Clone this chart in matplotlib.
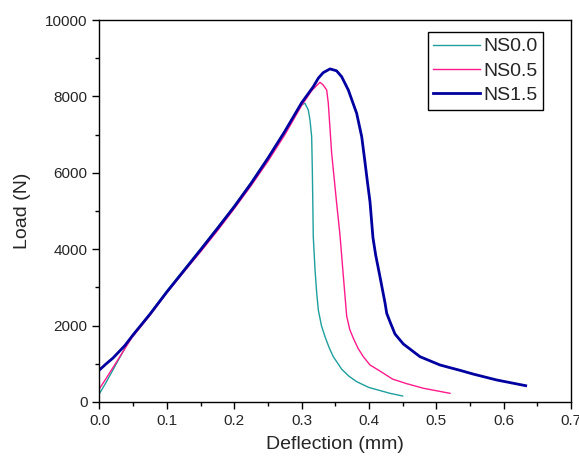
import matplotlib
matplotlib.use("Agg")
import matplotlib.pyplot as plt
from matplotlib.ticker import MultipleLocator, FormatStrFormatter

plt.rcParams['font.family'] = ['Liberation Sans', 'DejaVu Sans']

# NS0.0
x0 = [0, 0.01, 0.02, 0.03, 0.04, 0.05, 0.075, 0.1, 0.125, 0.15, 0.175, 0.2, 0.225,
      0.25, 0.275, 0.2928, 0.3, 0.305, 0.31, 0.3125, 0.315, 0.316, 0.3174, 0.32,
      0.3225, 0.3249, 0.3295, 0.3348, 0.341, 0.347, 0.3595, 0.37, 0.3818, 0.4,
      0.4164, 0.431, 0.45]
y0 = [220, 520, 840, 1160, 1480, 1760, 2320, 2910, 3460, 4010, 4570, 5140, 5750,
      6400, 7090, 7600, 7780, 7820, 7644, 7382, 6945, 6073, 4327, 3455,
      2850, 2408, 2000, 1710, 1420, 1190, 860, 680, 532, 380,
      300, 228, 157]

# NS0.5
x1 = [0, 0.01, 0.02, 0.03, 0.04, 0.048, 0.075, 0.1, 0.125, 0.15, 0.175, 0.2, 0.225,
      0.25, 0.275, 0.3, 0.315, 0.3273, 0.332, 0.3373, 0.3397, 0.3447, 0.3521, 0.357,
      0.362, 0.367, 0.3715, 0.3768, 0.384, 0.3917, 0.4016, 0.4164, 0.435, 0.456,
      0.4807, 0.5203]
y1 = [350, 620, 900, 1180, 1460, 1680, 2270, 2860, 3400, 3930, 4480, 5060, 5660,
      6300, 6990, 7760, 8150, 8370, 8300, 8168, 7820, 6510, 5201, 4380,
      3300, 2250, 1900, 1670, 1400, 1186, 969, 810, 600, 480,
      360, 227]

# NS1.5
x2 = [0, 0.01, 0.02, 0.0378, 0.05, 0.075, 0.1, 0.125, 0.15, 0.175, 0.2, 0.225, 0.25,
      0.275, 0.3, 0.3174, 0.325, 0.332, 0.3422, 0.352, 0.3595, 0.3694, 0.3818, 0.3893,
      0.394, 0.3975, 0.4016, 0.406, 0.41, 0.4164, 0.424, 0.4264, 0.4313, 0.4387, 0.451,
      0.4758, 0.5055, 0.52, 0.535, 0.555, 0.5897, 0.6327]
y2 = [840, 1000, 1150, 1480, 1760, 2300, 2880, 3430, 3980, 4540, 5110, 5720, 6380,
      7080, 7830, 8254, 8480, 8620, 8720, 8670, 8516, 8168, 7557, 6945,
      6300, 5800, 5240, 4300, 3850, 3280, 2584, 2322, 2100, 1780, 1520,
      1186, 969, 900, 830, 730, 576, 427]

labels = ['NS0.0', 'NS0.5', 'NS1.5']
colors = ['#1f9e9e', '#ff1a8c', '#0000a0']

fig = plt.figure(figsize=(5.79, 4.61), dpi=100)
ax = fig.add_axes([0.1718, 0.128, 0.8144, 0.8286])

ax.plot(x0, y0, color=colors[0], lw=1.0, label=labels[0])
ax.plot(x1, y1, color=colors[1], lw=1.0, label=labels[1])
ax.plot(x2, y2, color=colors[2], lw=2.0, label=labels[2])

ax.set_xlim(0, 0.7)
ax.set_ylim(0, 10000)
ax.xaxis.set_major_locator(MultipleLocator(0.1))
ax.xaxis.set_minor_locator(MultipleLocator(0.05))
ax.yaxis.set_major_locator(MultipleLocator(2000))
ax.yaxis.set_minor_locator(MultipleLocator(1000))
ax.xaxis.set_major_formatter(FormatStrFormatter('%.1f'))

for s in ax.spines.values():
    s.set_linewidth(1.0)
    s.set_color('black')

ax.tick_params(which='both', direction='out', top=False, right=False,
               labelsize=11, labelcolor='#262626', width=1.0)
ax.tick_params(which='major', length=5)
ax.tick_params(which='minor', length=3)

ax.set_xlabel('Deflection (mm)', fontsize=14, color='#262626', labelpad=6)
ax.set_ylabel('Load (N)', fontsize=14, color='#262626', labelpad=10)

leg = ax.legend(loc='upper right', bbox_to_anchor=(0.9406, 0.9686), borderaxespad=0,
                fontsize=14, handlelength=2.4, handletextpad=0.15, labelspacing=0.35,
                borderpad=0.3, fancybox=False, framealpha=1, edgecolor='black')
leg.get_frame().set_linewidth(1.0)
for t in leg.get_texts():
    t.set_color('#262626')

fig.savefig('out.png', dpi=100)
